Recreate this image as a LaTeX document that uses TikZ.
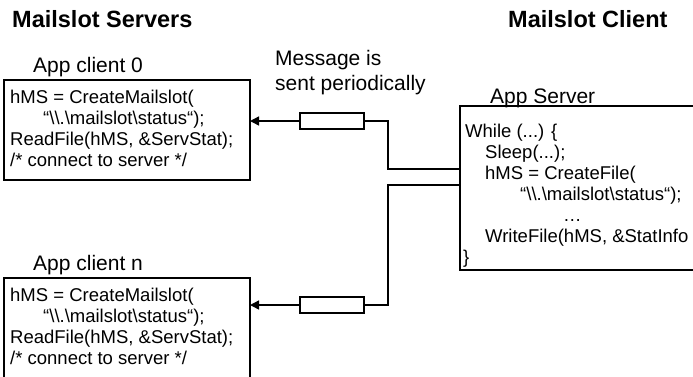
\documentclass[tikz,border=0pt]{standalone}
\usepackage{fontspec}
\setmainfont{Liberation Sans}
\usetikzlibrary{arrows.meta}
\newcommand{\bsl}{\textbackslash}
\begin{document}
\begin{tikzpicture}[x=1pt,y=-1pt,
  box/.style={draw, line width=1.4pt, rectangle, inner sep=0pt, outer sep=0pt},
  code/.style={anchor=base west, inner sep=0pt, font=\fontsize{18.5}{21}\selectfont},
  lbl/.style={anchor=base west, inner sep=0pt, font=\fontsize{21}{25}\selectfont},
  ttl/.style={anchor=base west, inner sep=0pt, font=\fontsize{23.5}{28}\selectfont\bfseries},
  wire/.style={line width=1.4pt},
  msg/.style={draw, line width=1.4pt, rectangle, minimum width=64pt, minimum height=16pt, inner sep=0pt, outer sep=0pt},
  arr/.style={wire, -{Triangle[length=9pt,width=9pt]}}
]
\clip (0,0) rectangle (693,376);
\fill[white] (0,0) rectangle (693,376);

% titles
\node[ttl] (t1) at (12,27) {Mailslot Servers};
\node[ttl] (t2) at (508,27) {Mailslot Client};

% labels
\node[lbl] (l0) at (33,72) {App client 0};
\node[lbl] (ln) at (33,270) {App client n};
\node[lbl] (m1) at (275,65) {Message is};
\node[lbl] (m2) at (275,90) {sent periodically};
\node[lbl] (ls) at (490,103) {App Server};

% boxes
\node[box, minimum width=246, minimum height=100] (c0) at (127,130) {};
\node[box, minimum width=246, minimum height=120] (cn) at (127,338) {};
\node[box, minimum width=260, minimum height=164] (srv) at (590,188) {};

% client 0 code
\node[code] (a1) at (10,103) {hMS = CreateMailslot(};
\node[code] (a2) at (43,124) {“\bsl\bsl.\bsl mailslot\bsl status“);};
\node[code] (a3) at (10,145) {ReadFile(hMS, \&ServStat);};
\node[code] (a4) at (10,166) {/* connect to server */};

% client n code
\node[code] (b1) at (10,301) {hMS = CreateMailslot(};
\node[code] (b2) at (43,322) {“\bsl\bsl.\bsl mailslot\bsl status“);};
\node[code] (b3) at (10,343) {ReadFile(hMS, \&ServStat);};
\node[code] (b4) at (10,364) {/* connect to server */};

% server code
\node[code] (s1) at (465,137) {While (...) \{};
\node[code] (s2) at (485,158) {Sleep(...);};
\node[code] (s3) at (485,179) {hMS = CreateFile(};
\node[code] (s4) at (520,200) {“\bsl\bsl.\bsl mailslot\bsl status“);};
\node[code] (s5) at (563,221) {…};
\node[code] (s6) at (485,242) {WriteFile(hMS, \&StatInfo};
\node[code] (s7) at (463,263) {\}};

% message carriers
\node[msg] (r0) at (332,121) {};
\node[msg] (rn) at (332,305) {};

% connectors
\coordinate (k0) at (388,169);
\coordinate (kn) at (388,185);
\draw[wire] (r0.east) -| (k0) -- (k0 -| srv.west);
\draw[wire] (kn -| srv.west) -- (kn) |- (rn.east);
\draw[arr] (r0.west) -- (r0.west -| c0.east);
\draw[arr] (rn.west) -- (rn.west -| cn.east);
\end{tikzpicture}
\end{document}
